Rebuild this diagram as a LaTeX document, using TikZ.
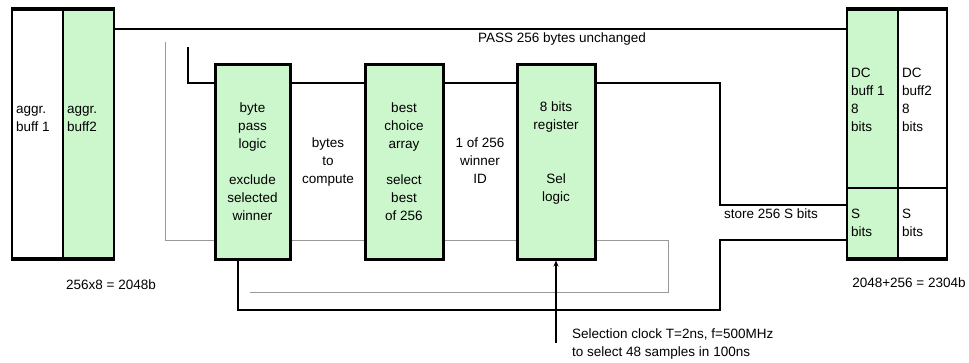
\documentclass[tikz,border=0pt]{standalone}
\usepackage{fontspec}
\setmainfont{Liberation Sans}
\usetikzlibrary{arrows.meta}
\definecolor{boxgreen}{HTML}{CCF7CC}
\begin{document}
\begin{tikzpicture}[x=1pt,y=-1pt, font=\fontsize{13.5}{18}\selectfont,
  cell/.style={draw, line width=2pt, inner sep=0pt},
  gbox/.style={draw, line width=3pt, fill=boxgreen, minimum width=75pt, minimum height=195pt, inner sep=0pt},
  wire/.style={line width=1.6pt},
  greywire/.style={line width=0.9pt, draw=black!40},
  txt/.style={inner sep=0pt, align=center},
  ltxt/.style={inner sep=0pt, align=left, anchor=west},
  edge4/.style={line width=4pt}]
\useasboundingbox (0,0) rectangle (969,362);

% left buffer
\node[cell, minimum width=51pt, minimum height=248pt] (lb1) at (37.5,134) {};
\node[cell, fill=boxgreen, minimum width=51pt, minimum height=248pt] (lb2) at (88.5,134) {};
\draw[edge4] (lb1.north west) -- (lb2.north east);
\draw[edge4] (lb1.south west) -- (lb2.south east);
\node[ltxt] (lb1t) at (16,119) {aggr.\\buff 1};
\node[ltxt] (lb2t) at (67,119) {aggr.\\buff2};
\node[txt] (lbsize) at (111,285) {256x8 = 2048b};

% right buffer
\node[cell, fill=boxgreen, minimum width=51pt, minimum height=178pt] (rb1) at (872.5,99) {};
\node[cell, minimum width=49pt, minimum height=178pt] (rb2) at (922.5,99) {};
\node[cell, fill=boxgreen, minimum width=51pt, minimum height=70pt] (rb3) at (872.5,223) {};
\node[cell, minimum width=49pt, minimum height=70pt] (rb4) at (922.5,223) {};
\draw[edge4] (rb1.north west) -- (rb2.north east);
\draw[edge4] (rb3.south west) -- (rb4.south east);
\node[ltxt] (rb1t) at (851,99.5) {DC\\buff 1\\8\\bits};
\node[ltxt] (rb2t) at (902,99.5) {DC\\buff2\\8\\bits};
\node[ltxt] (rb3t) at (851,222.5) {S\\bits};
\node[ltxt] (rb4t) at (902,222.5) {S\\bits};
\node[txt] (rbsize) at (909,283) {2048+256 = 2304b};

% green boxes
\node[gbox] (b1) at (252.5,161.5) {};
\node[gbox, minimum width=78pt] (b2) at (404,161.5) {};
\node[gbox, minimum width=78pt] (b3) at (556,161.5) {};
\node[txt] (b1t) at (252.5,161.5) {byte\\pass\\logic\\[18pt]exclude\\selected\\winner};
\node[txt] (b2t) at (404,161.5) {best\\choice\\array\\[18pt]select\\best\\of 256};
\node[txt] (b3t) at (556,153) {8 bits\\register\\[36pt]Sel\\logic};
\node[txt] (btc) at (328,162) {bytes\\to\\compute};
\node[txt] (win) at (480,161) {1 of 256\\winner\\ID};

% coordinates
\coordinate (ytop) at (0,29);
\coordinate (r1) at (0,83);
\coordinate (r2) at (0,240);
\coordinate (s1) at (188,47);
\coordinate (k1) at (720,205);
\coordinate (k2) at (720,240);
\coordinate (k3) at (720,310);
\coordinate (k4) at (238,310);
\coordinate (g0) at (165,42);
\coordinate (g1) at (668,240);
\coordinate (g2) at (668,292);
\coordinate (g3) at (250,292);
\coordinate (clk) at (556,343);

% top pass line
\draw[wire] (lb2.east |- ytop) -- (rb1.west |- ytop);
\node[txt] (pass) at (562,39) {PASS 256 bytes unchanged};

% main black path
\draw[wire] (s1) |- (b1.west |- r1);
\draw[wire] (b1.east |- r1) -- (b2.west |- r1);
\draw[wire] (b2.east |- r1) -- (b3.west |- r1);
\draw[wire] (b3.east |- r1) -| (k1) -- (rb3.west |- k1);
\node[ltxt] (store) at (724,214) {store 256 S bits};

% bottom loop
\draw[wire] (rb3.west |- k2) -- (k2) -- (k3) -- (k4) -- (k4 |- b1.south);

% grey path
\draw[greywire] (g0) |- (b1.west |- r2);
\draw[greywire] (b1.east |- r2) -- (b2.west |- r2);
\draw[greywire] (b2.east |- r2) -- (b3.west |- r2);
\draw[greywire] (b3.east |- r2) -- (g1) -- (g2) -- (g3);

% selection clock
\draw[wire, -{Stealth[length=6pt,width=5pt]}] (clk) -- (b3.south);
\node[ltxt] (clkl) at (572,344) {Selection clock T=2ns, f=500MHz\\to select 48 samples in 100ns};
\end{tikzpicture}
\end{document}
